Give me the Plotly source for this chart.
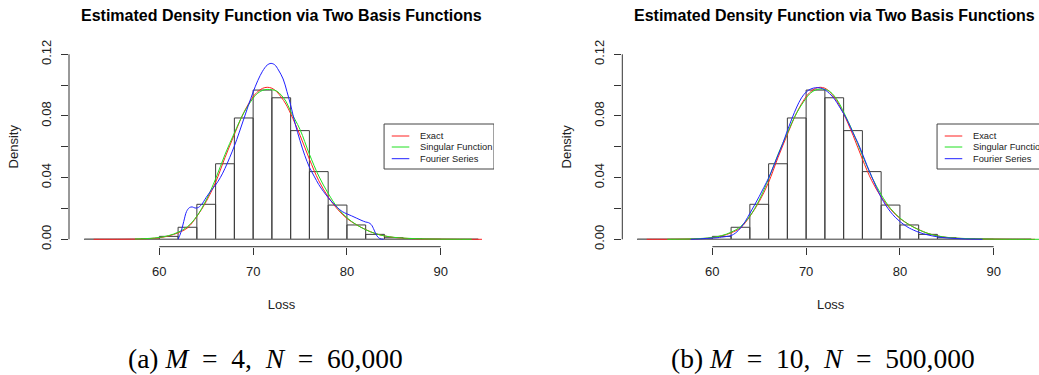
import plotly.graph_objects as go

# ---------------- data ----------------
bin_edges = [52, 54, 56, 58, 60, 62, 64, 66, 68, 70, 72, 74, 76, 78, 80, 82, 84, 86, 88, 90, 92, 94]
hist_density = [0.0, 0.0, 0.0, 0.0002, 0.0019, 0.0078, 0.0227, 0.0490, 0.0787, 0.0968, 0.0918,
                0.0705, 0.0439, 0.0222, 0.0093, 0.0032, 0.0010, 0.0003, 0.0001, 0.0, 0.0]

exact_x = [53, 55, 57, 58, 59, 60, 61, 62, 63, 64, 65, 66, 67, 68, 69, 70, 70.5, 71, 71.5, 72, 72.5,
           73, 73.5, 74, 75, 76, 77, 78, 79, 80, 81, 82, 83, 84, 85, 86, 87, 88, 90, 92, 94.4]
exact_y = [0.0, 0.0, 0.0001, 0.0002, 0.0005, 0.0010, 0.0022, 0.0042, 0.0074, 0.0148, 0.0245, 0.0370,
           0.0530, 0.0680, 0.0822, 0.0925, 0.0958, 0.0979, 0.0986, 0.0980, 0.0958, 0.0922, 0.0876,
           0.0815, 0.0675, 0.0520, 0.0380, 0.0275, 0.0195, 0.0135, 0.0095, 0.0063, 0.0038, 0.0022,
           0.0012, 0.0007, 0.0004, 0.0002, 0.0001, 0.0, 0.0]

singular_a_x = [57.4, 58, 59, 60, 61, 62, 63, 64, 65, 66, 67, 68, 69, 70, 70.5, 71, 71.5, 72, 72.5, 73,
                73.5, 74, 75, 76, 77, 78, 79, 80, 81, 82, 83, 84, 85, 86, 88, 90, 93.3]
singular_a_y = [0.0002, 0.0003, 0.0006, 0.0012, 0.0024, 0.0046, 0.0082, 0.0150, 0.0255, 0.0392, 0.0550,
                0.0690, 0.0820, 0.0915, 0.0948, 0.0966, 0.0972, 0.0970, 0.0962, 0.0935, 0.0895, 0.0830,
                0.0712, 0.0552, 0.0410, 0.0298, 0.0205, 0.0140, 0.0095, 0.0062, 0.0038, 0.0022, 0.0013,
                0.0008, 0.0003, 0.0001, 0.0]

singular_b_x = [55.2, 57, 58, 59, 60, 61, 62, 63, 64, 65, 66, 67, 68, 69, 70, 70.5, 71, 71.5, 72, 72.5,
                73, 73.5, 74, 75, 76, 77, 78, 79, 80, 81, 82, 83, 84, 85, 86, 88, 90, 92, 95.2]
singular_b_y = [0.0, 0.0001, 0.0003, 0.0006, 0.0012, 0.0024, 0.0046, 0.0082, 0.0150, 0.0255, 0.0392,
                0.0550, 0.0690, 0.0820, 0.0915, 0.0950, 0.0968, 0.0975, 0.0972, 0.0960, 0.0930, 0.0885,
                0.0825, 0.0695, 0.0545, 0.0405, 0.0290, 0.0200, 0.0138, 0.0094, 0.0062, 0.0038, 0.0022,
                0.0013, 0.0008, 0.0003, 0.0001, 0.0, 0.0]

fourier_a_x = [62.0, 62.3, 62.6, 62.9, 63.2, 63.5, 63.8, 64.1, 64.5, 65, 65.5, 66, 66.5, 67, 67.5, 68,
               68.5, 69, 69.5, 70, 70.5, 71, 71.5, 71.9, 72.3, 72.7, 73.2, 73.6, 74, 74.5, 75, 75.5,
               76, 76.5, 77, 77.5, 78, 78.5, 79, 79.5, 80, 80.5, 81, 81.5, 82, 82.3, 82.6, 82.9, 83.2,
               83.5, 83.9]
fourier_a_y = [0.0, 0.0045, 0.0115, 0.0180, 0.0205, 0.0210, 0.0203, 0.0205, 0.0225, 0.0272, 0.0315,
               0.0353, 0.0400, 0.0460, 0.0530, 0.0605, 0.0690, 0.0780, 0.0870, 0.0955, 0.1030, 0.1090,
               0.1130, 0.1141, 0.1132, 0.1098, 0.1040, 0.0960, 0.0870, 0.0745, 0.0640, 0.0545, 0.0468,
               0.0410, 0.0355, 0.0310, 0.0270, 0.0235, 0.0205, 0.0180, 0.0165, 0.0152, 0.0138, 0.0124,
               0.0112, 0.0108, 0.0095, 0.0060, 0.0022, 0.0005, 0.0]

fourier_b_x = [57.7, 58.5, 59, 59.75, 60.5, 61, 61.5, 62, 62.5, 63, 63.5, 64, 64.5, 65, 65.5, 66, 66.5,
               67, 67.5, 68, 68.5, 69, 69.5, 70, 70.5, 71, 71.5, 72, 72.5, 73, 73.5, 74, 74.5, 75,
               75.5, 76, 76.5, 77, 77.5, 78, 78.5, 79, 79.5, 80, 80.5, 81, 82, 83, 84, 85, 86, 87, 88,
               88.8]
fourier_b_y = [0.0, 0.0002, 0.0004, 0.0007, 0.0010, 0.0014, 0.0018, 0.0024, 0.0042, 0.0073, 0.0115,
               0.0168, 0.0222, 0.0278, 0.0337, 0.0398, 0.0470, 0.0545, 0.0620, 0.0705, 0.0785, 0.0858,
               0.0917, 0.0955, 0.0975, 0.0983, 0.0982, 0.0970, 0.0945, 0.0912, 0.0865, 0.0815, 0.0758,
               0.0690, 0.0628, 0.0555, 0.0478, 0.0405, 0.0335, 0.0272, 0.0220, 0.0178, 0.0143, 0.0115,
               0.0092, 0.0073, 0.0046, 0.0028, 0.0016, 0.0009, 0.0005, 0.0002, 0.0001, 0.0]

x_ticks = [60, 70, 80, 90]
y_ticks = [0.00, 0.02, 0.04, 0.06, 0.08, 0.10, 0.12]
y_tick_text = ["0.00", "", "0.04", "", "0.08", "", "0.12"]
series_names = ["Exact", "Singular Function", "Fourier Series"]
series_colors = ["#ff2020", "#20e020", "#2020ff"]
title_text = "Estimated Density Function via Two Basis Functions"
EQ = "&nbsp;&nbsp;=&nbsp;&nbsp;"
captions = ["(a) <i>M</i>" + EQ + "4,&nbsp; <i>N</i>" + EQ + "60,000",
            "(b) <i>M</i>" + EQ + "10,&nbsp; <i>N</i>" + EQ + "500,000"]

# ---------------- layout geometry ----------------
W, H = 1039, 375
TOP, BOT = 46.9, 246.7
panels = [
    dict(xa="x", ya="y", left=69.0, right=494.0, xr=[50.37, 95.68],
         sing=(singular_a_x, singular_a_y), four=(fourier_a_x, fourier_a_y), cap_x=265),
    dict(xa="x2", ya="y2", left=622.3, right=1039.0, xr=[50.40, 94.83],
         sing=(singular_b_x, singular_b_y), four=(fourier_b_x, fourier_b_y), cap_x=823),
]

FONT = "Liberation Sans, Arial, Helvetica, sans-serif"
AX = "#333333"
fig = go.Figure()
centers = [(a + b) / 2 for a, b in zip(bin_edges[:-1], bin_edges[1:])]
widths = [b - a for a, b in zip(bin_edges[:-1], bin_edges[1:])]

shapes, annotations = [], []
for i, p in enumerate(panels):
    xa, ya = p["xa"], p["ya"]
    # histogram baseline
    fig.add_trace(go.Scatter(x=[bin_edges[0], bin_edges[-1]], y=[0, 0], mode="lines",
                             line=dict(color="#777777", width=1.2), xaxis=xa, yaxis=ya,
                             showlegend=False, hoverinfo="skip"))
    fig.add_trace(go.Bar(x=centers, y=hist_density, width=widths, xaxis=xa, yaxis=ya,
                         marker=dict(color="rgba(0,0,0,0)", line=dict(color="#3c3c3c", width=1)),
                         showlegend=False))
    curves = [(exact_x, exact_y), p["sing"], p["four"]]
    for (cx, cy), nm, col in zip(curves, series_names, series_colors):
        fig.add_trace(go.Scatter(x=cx, y=cy, mode="lines", name=nm, line=dict(color=col, width=1),
                                 xaxis=xa, yaxis=ya, showlegend=False, line_shape="spline"))

    # R-style axis lines spanning only the tick range
    shapes.append(dict(type="line", xref=xa, yref=ya + " domain", x0=x_ticks[0], x1=x_ticks[-1],
                       y0=0, y1=0, line=dict(color=AX, width=1)))
    shapes.append(dict(type="line", xref=xa + " domain", yref=ya, x0=0, x1=0,
                       y0=y_ticks[0], y1=y_ticks[-1], line=dict(color=AX, width=1)))

    # legend (manual, R-style)
    lx0, lx1 = 83.96, 95.68
    ly_top, ly_bot = (BOT - 124) / (BOT - TOP), (BOT - 169) / (BOT - TOP)
    shapes.append(dict(type="rect", xref=xa, yref=ya + " domain", x0=lx0, x1=lx1, y0=ly_bot, y1=ly_top,
                       line=dict(color="#444444", width=1), fillcolor="white", layer="above"))
    for k, (nm, col, ry) in enumerate(zip(series_names, series_colors, [136, 147, 158.7])):
        yd = (BOT - ry) / (BOT - TOP)
        shapes.append(dict(type="line", xref=xa, yref=ya + " domain", x0=84.78, x1=86.65, y0=yd, y1=yd,
                           line=dict(color=col, width=1)))
        annotations.append(dict(text=nm, xref=xa, yref=ya + " domain", x=87.55, y=yd, xanchor="left",
                                yanchor="middle", showarrow=False, font=dict(family=FONT, size=9.3, color="#222")))

    cx_title = (p["left"] + p["left"] + 425.0) / 2 / W
    annotations.append(dict(text="<b>" + title_text + "</b>", xref="paper", yref="paper", x=cx_title,
                            y=1 - 15 / H, xanchor="center", yanchor="middle", showarrow=False,
                            font=dict(family=FONT, size=16, color="black")))
    annotations.append(dict(text=captions[i], xref="paper", yref="paper", x=p["cap_x"] / W,
                            y=1 - 358 / H, xanchor="center", yanchor="middle", showarrow=False,
                            font=dict(family="Liberation Serif, Times New Roman, serif", size=27.5, color="black")))

axis_common = dict(showgrid=False, zeroline=False, showline=False, ticks="outside", ticklen=7,
                   tickcolor=AX, tickwidth=1, tickfont=dict(family=FONT, size=13, color="#222"))
layout = dict(width=W, height=H, margin=dict(l=0, r=0, t=0, b=0, autoexpand=False),
              plot_bgcolor="white", paper_bgcolor="white", barmode="overlay",
              shapes=shapes, annotations=annotations, showlegend=False)
for i, p in enumerate(panels):
    sx = "" if i == 0 else "2"
    layout["xaxis" + sx] = dict(axis_common, domain=[p["left"] / W, p["right"] / W], range=p["xr"],
                                tickvals=x_ticks, ticklabelstandoff=6,
                                title=dict(text="Loss", standoff=21, font=dict(family=FONT, size=13, color="#222")),
                                anchor="y" + sx)
    layout["yaxis" + sx] = dict(axis_common, domain=[1 - BOT / H, 1 - TOP / H], range=[-0.0048, 0.1248],
                                tickvals=y_ticks, ticktext=y_tick_text, tickangle=-90, ticklabelstandoff=5,
                                title=dict(text="Density", standoff=17, font=dict(family=FONT, size=13, color="#222")),
                                anchor="x" + sx)
fig.update_layout(**layout)
fig.write_html("out.html", config={"displayModeBar": False},
               post_script="document.body.style.margin='0px';")
